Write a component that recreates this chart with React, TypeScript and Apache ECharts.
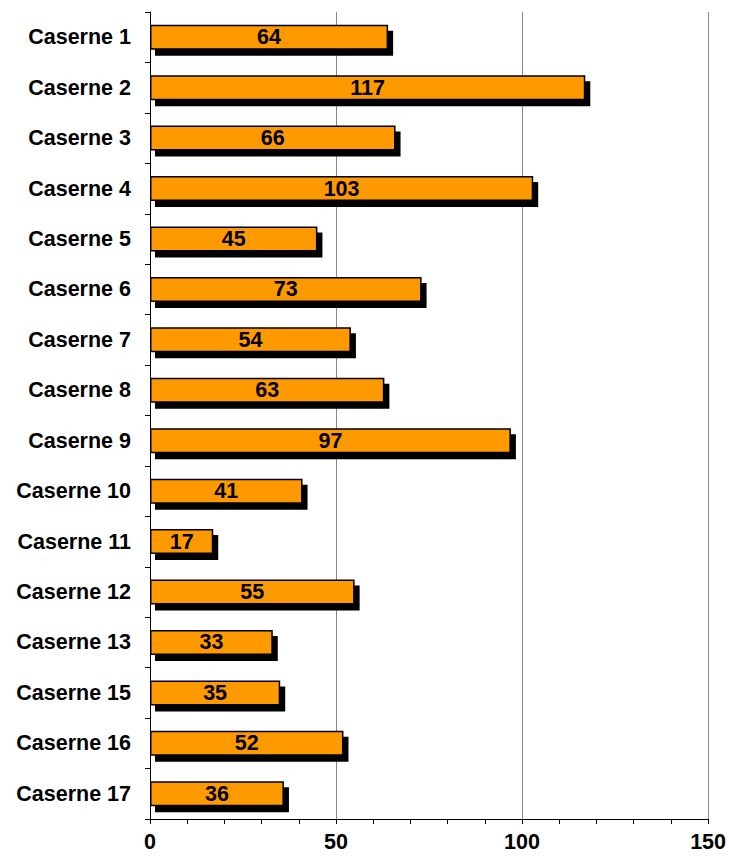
import React, { useEffect, useRef } from "react";
import * as echarts from "echarts";

const categories = [
  "Caserne 1", "Caserne 2", "Caserne 3", "Caserne 4", "Caserne 5", "Caserne 6",
  "Caserne 7", "Caserne 8", "Caserne 9", "Caserne 10", "Caserne 11", "Caserne 12",
  "Caserne 13", "Caserne 15", "Caserne 16", "Caserne 17",
];
const values = [64, 117, 66, 103, 45, 73, 54, 63, 97, 41, 17, 55, 33, 35, 52, 36];
const xTicks = { min: 0, max: 150, interval: 50 };

export default function App() {
  const ref = useRef<HTMLDivElement>(null);
  useEffect(() => {
    document.body.style.margin = "0";
    if (!ref.current) return;
    const chart = echarts.init(ref.current, null, { renderer: "svg" });
    const font = "Arial, 'Liberation Sans', sans-serif";
    chart.setOption({
      animation: false,
      backgroundColor: "#ffffff",
      grid: { left: 150, right: 20, top: 12, bottom: 37, containLabel: false },
      xAxis: {
        type: "value",
        min: xTicks.min,
        max: xTicks.max,
        interval: xTicks.interval,
        axisLine: { show: true, lineStyle: { color: "#000", width: 1 } },
        axisTick: { show: true, length: 5, lineStyle: { color: "#000" } },
        minorTick: { show: true, splitNumber: 5, length: 5, lineStyle: { color: "#000" } },
        splitLine: { show: true, lineStyle: { color: "#888", width: 1 } },
        axisLabel: {
          color: "#000",
          fontFamily: font,
          fontWeight: "bold",
          fontSize: 21.5,
          margin: 12,
        },
      },
      yAxis: {
        type: "category",
        data: categories,
        inverse: true,
        axisLine: { show: true, lineStyle: { color: "#000", width: 1 } },
        axisTick: { show: true, length: 5, alignWithLabel: false, lineStyle: { color: "#000" } },
        splitLine: { show: false },
        axisLabel: {
          color: "#000",
          fontFamily: font,
          fontWeight: "bold",
          fontSize: 21.5,
          margin: 19,
        },
      },
      series: [
        {
          type: "bar",
          data: values,
          barWidth: 25,
          itemStyle: {
            color: "#FF9900",
            borderColor: "#000",
            borderWidth: 1.5,
            shadowColor: "#000",
            shadowBlur: 0,
            shadowOffsetX: 5,
            shadowOffsetY: 6,
          },
          label: {
            show: true,
            position: "inside",
            color: "#000",
            fontFamily: font,
            fontWeight: "bold",
            fontSize: 21.5,
          },
        },
      ],
    });
    return () => chart.dispose();
  }, []);
  return <div ref={ref} style={{ width: 729, height: 856 }} />;
}
